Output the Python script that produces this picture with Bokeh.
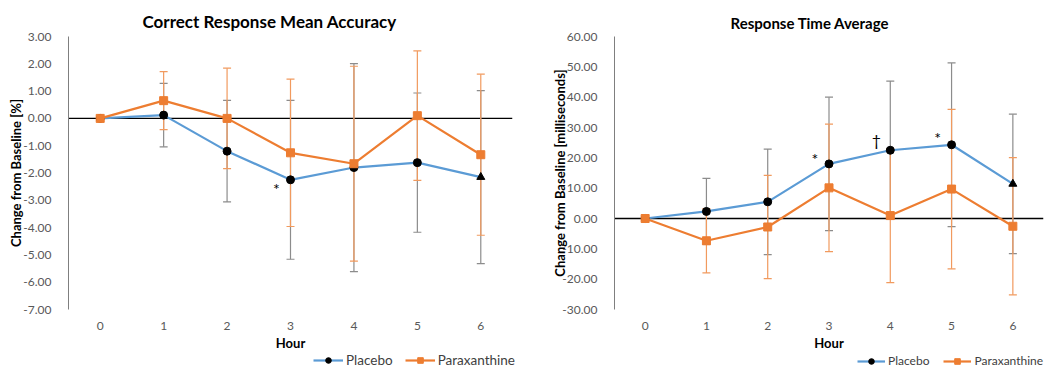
from bokeh.plotting import figure
from bokeh.layouts import row, column
from bokeh.models import (Range1d, Span, Whisker, ColumnDataSource, Legend, LegendItem,
                          NumeralTickFormatter, FixedTicker, TeeHead)
from bokeh.core.properties import value
from bokeh.embed import file_html
from bokeh.resources import INLINE

# ---------------- data ----------------
hours = [0, 1, 2, 3, 4, 5, 6]
hour_labels = ["0", "1", "2", "3", "4", "5", "6"]

acc_placebo = [0.00, 0.12, -1.20, -2.25, -1.80, -1.62, -2.15]
acc_placebo_err = [0.00, 1.16, 1.86, 2.91, 3.81, 2.55, 3.17]
acc_parax = [0.00, 0.65, 0.00, -1.26, -1.66, 0.10, -1.33]
acc_parax_err = [0.00, 1.06, 1.84, 2.70, 3.57, 2.37, 2.95]
acc_ticks = [3, 2, 1, 0, -1, -2, -3, -4, -5, -6, -7]
acc_sig_hours = [3]
acc_sig_text = ["*"]

rt_placebo = [0.00, 2.33, 5.50, 18.00, 22.50, 24.30, 11.40]
rt_placebo_err = [0.00, 10.90, 17.40, 22.00, 22.80, 27.00, 23.00]
rt_parax = [0.00, -7.35, -2.80, 10.10, 0.96, 9.70, -2.56]
rt_parax_err = [0.00, 10.60, 17.00, 21.00, 22.10, 26.30, 22.60]
rt_ticks = [60, 50, 40, 30, 20, 10, 0, -10, -20, -30]
rt_sig_hours = [3, 4, 5]
rt_sig_text = ["*", "\u2020", "*"]

placebo_markers = ["circle"] * 6 + ["triangle"]

BLUE = "#5B9BD5"
ORANGE = "#ED7D31"
GREY_ERR = "#8C8C8C"
ORANGE_ERR = "#F19A5E"
FONT = "Lato"
NAN = float("nan")


def make_chart(title, ylabel, placebo, placebo_err, parax, parax_err, ticks,
               sig_hours, sig_text, sig_dy, width, border_left, border_right,
               title_size, title_offset, ylabel_standoff,
               legend_x, legend_font, glyph_w, legend_spacing):
    p = figure(width=width, height=353, output_backend="svg", toolbar_location=None,
               x_range=Range1d(-0.5, 6.5), y_range=Range1d(min(ticks), max(ticks)),
               min_border_left=border_left, min_border_right=border_right,
               min_border_top=36, min_border_bottom=40)
    p.frame_align = False
    p.outline_line_color = None
    p.grid.visible = False
    p.background_fill_color = "white"
    p.border_fill_color = "white"

    p.title.text = title
    p.title.text_font = FONT
    p.title.text_font_style = "bold"
    p.title.text_font_size = title_size
    p.title.text_color = "#000000"
    p.title.align = "left"
    p.title.offset = title_offset
    p.title.standoff = 10

    # axes
    p.xaxis.ticker = FixedTicker(ticks=hours)
    p.xaxis.major_label_overrides = {h: lab for h, lab in zip(hours, hour_labels)}
    p.xaxis.axis_line_color = None
    p.xaxis.major_tick_line_color = None
    p.xaxis.minor_tick_line_color = None
    p.xaxis.major_label_standoff = 6
    p.xaxis.major_label_text_font = FONT
    p.xaxis.major_label_text_font_size = "12px"
    p.xaxis.major_label_text_color = "#595959"
    p.xaxis.axis_label = "Hour"
    p.xaxis.axis_label_text_font = FONT
    p.xaxis.axis_label_text_font_style = "bold"
    p.xaxis.axis_label_text_font_size = "13px"
    p.xaxis.axis_label_text_color = "#000000"
    p.xaxis.axis_label_standoff = 2

    p.yaxis.ticker = FixedTicker(ticks=ticks)
    p.yaxis.formatter = NumeralTickFormatter(format="0.00")
    p.yaxis.axis_line_color = "#7F7F7F"
    p.yaxis.major_tick_line_color = None
    p.yaxis.minor_tick_line_color = None
    p.yaxis.major_label_standoff = 11
    p.yaxis.major_label_text_font = FONT
    p.yaxis.major_label_text_font_size = "12px"
    p.yaxis.major_label_text_color = "#595959"
    p.yaxis.axis_label = ylabel
    p.yaxis.axis_label_text_font = FONT
    p.yaxis.axis_label_text_font_style = "bold"
    p.yaxis.axis_label_text_font_size = "13px"
    p.yaxis.axis_label_text_color = "#000000"
    p.yaxis.axis_label_standoff = ylabel_standoff

    p.add_layout(Span(location=0, dimension="width", line_color="black",
                      line_width=1.4, level="underlay"))

    # error bars
    for vals, errs, col in ((placebo, placebo_err, GREY_ERR), (parax, parax_err, ORANGE_ERR)):
        idx = [i for i, e in enumerate(errs) if e > 0]
        src = ColumnDataSource(dict(
            x=[hours[i] for i in idx],
            upper=[vals[i] + errs[i] for i in idx],
            lower=[vals[i] - errs[i] for i in idx]))
        w = Whisker(base="x", upper="upper", lower="lower", source=src,
                    line_color=col, line_width=1.2, level="underlay",
                    upper_head=TeeHead(size=8, line_color=col, line_width=1.2),
                    lower_head=TeeHead(size=8, line_color=col, line_width=1.2))
        p.add_layout(w)

    pl_src = ColumnDataSource(dict(x=hours, y=placebo, m=placebo_markers))
    px_src = ColumnDataSource(dict(x=hours, y=parax))
    p.line("x", "y", source=pl_src, line_color=BLUE, line_width=2.2)
    p.scatter("x", "y", source=pl_src, marker="m", size=8,
              fill_color="black", line_color="black")
    p.line("x", "y", source=px_src, line_color=ORANGE, line_width=2.2)
    p.scatter("x", "y", source=px_src, marker="square", size=8,
              fill_color=ORANGE, line_color=ORANGE)

    # significance marks
    p.text(x=sig_hours, y=[placebo[h] for h in sig_hours], text=sig_text,
           x_offset=-14, y_offset=sig_dy, text_align="center", text_baseline="middle",
           text_font=value(FONT), text_font_size="16px", text_color="#000000")

    # legend strip underneath the chart
    lg = figure(width=width, height=16, output_backend="svg", toolbar_location=None,
                x_range=Range1d(0, 1), y_range=Range1d(0, 1), title=None,
                x_axis_location=None, y_axis_location=None, min_border=0)
    lg.frame_align = False
    lg.outline_line_color = None
    lg.grid.visible = False
    lg.border_fill_color = "white"
    l1 = lg.line(x=[NAN], y=[NAN], line_color=BLUE, line_width=2.2)
    s1 = lg.scatter(x=[NAN], y=[NAN], marker="circle", size=8,
                    fill_color="black", line_color="black")
    l2 = lg.line(x=[NAN], y=[NAN], line_color=ORANGE, line_width=2.2)
    s2 = lg.scatter(x=[NAN], y=[NAN], marker="square", size=8,
                    fill_color=ORANGE, line_color=ORANGE)
    legend = Legend(items=[LegendItem(label="Placebo", renderers=[l1, s1]),
                           LegendItem(label="Paraxanthine", renderers=[l2, s2])],
                    orientation="horizontal", location=(legend_x, 1),
                    border_line_color=None, background_fill_alpha=0,
                    padding=0, margin=0, spacing=legend_spacing, label_standoff=3,
                    glyph_width=glyph_w, glyph_height=14, label_height=14,
                    label_text_font=FONT, label_text_font_size=legend_font,
                    label_text_color="#404040")
    lg.add_layout(legend)
    return column(p, lg, spacing=0)


c1 = make_chart("Correct Response Mean Accuracy", "Change from Baseline [%]",
                acc_placebo, acc_placebo_err, acc_parax, acc_parax_err, acc_ticks,
                acc_sig_hours, acc_sig_text, [9], 522, 68, 10,
                "17px", 74, -4, 313, "13.5px", 30, 12)
c2 = make_chart("Response Time Average", "Change from Baseline [milliseconds]",
                rt_placebo, rt_placebo_err, rt_parax, rt_parax_err, rt_ticks,
                rt_sig_hours, rt_sig_text, [-5, -11, -7], 524, 92, 3,
                "15px", 116, -9, 335, "12px", 28, 14)

layout = row(c1, c2, spacing=0)
open("out.html", "w").write(file_html(layout, INLINE))
